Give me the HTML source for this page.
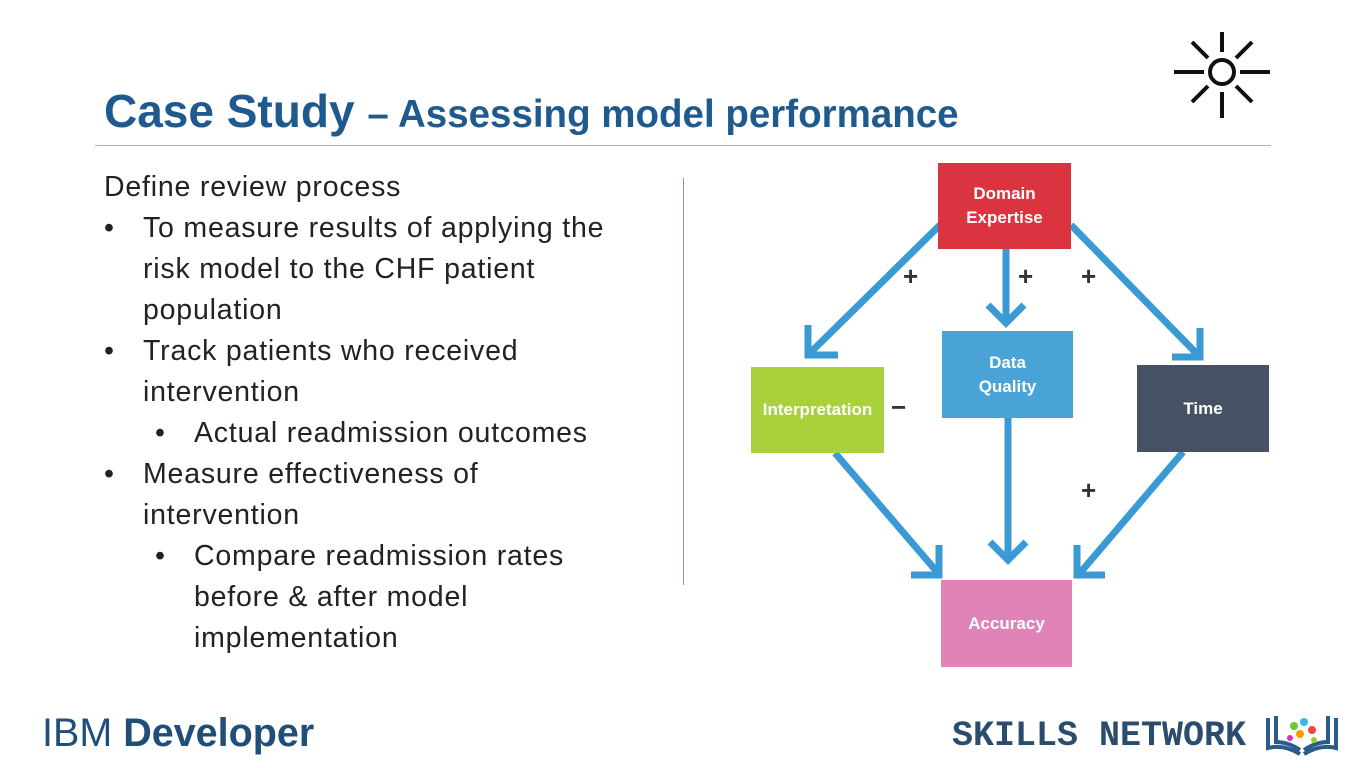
<!DOCTYPE html>
<html><head><style>
body{margin:0;width:1366px;height:768px;background:#fff;font-family:"Liberation Sans",sans-serif;position:relative;overflow:hidden}
.t{position:absolute;white-space:nowrap}
.body{font-size:28.5px;color:#222;letter-spacing:0.8px}
.bx{position:absolute;color:#fff;font-weight:bold;font-size:17px;display:flex;align-items:center;justify-content:center;text-align:center;line-height:24px}
</style></head><body>
<div class="t" style="left:104px;top:84px;color:#1f5a8e;font-weight:bold;font-size:46px">Case Study <span style="font-size:38.5px">– Assessing model performance</span></div>
<div style="position:absolute;left:95px;top:145px;width:1176px;height:1px;background:#aab4cc"></div>
<svg style="position:absolute;left:1170px;top:30px" width="104" height="90" viewBox="0 0 104 90">
<g stroke="#111" stroke-width="4" fill="none"><circle cx="52" cy="42" r="12"/>
<line x1="52" y1="2" x2="52" y2="22"/><line x1="52" y1="62" x2="52" y2="88"/>
<line x1="4" y1="42" x2="34" y2="42"/><line x1="70" y1="42" x2="100" y2="42"/>
<line x1="22" y1="12" x2="38" y2="28"/><line x1="82" y1="12" x2="66" y2="28"/>
<line x1="22" y1="72" x2="38" y2="56"/><line x1="82" y1="72" x2="66" y2="56"/></g></svg>
<div class="t body" style="left:104px;top:171px">Define review process</div>
<div class="t body" style="left:104px;top:212px">•</div><div class="t body" style="left:143px;top:212px">To measure results of applying the</div>
<div class="t body" style="left:143px;top:253px">risk model to the CHF patient</div>
<div class="t body" style="left:143px;top:294px">population</div>
<div class="t body" style="left:104px;top:335px">•</div><div class="t body" style="left:143px;top:335px">Track patients who received</div>
<div class="t body" style="left:143px;top:376px">intervention</div>
<div class="t body" style="left:155px;top:417px">•</div><div class="t body" style="left:194px;top:417px">Actual readmission outcomes</div>
<div class="t body" style="left:104px;top:458px">•</div><div class="t body" style="left:143px;top:458px">Measure effectiveness of</div>
<div class="t body" style="left:143px;top:499px">intervention</div>
<div class="t body" style="left:155px;top:540px">•</div><div class="t body" style="left:194px;top:540px">Compare readmission rates</div>
<div class="t body" style="left:194px;top:581px">before &amp; after model</div>
<div class="t body" style="left:194px;top:622px">implementation</div>
<div style="position:absolute;left:683px;top:178px;width:1px;height:407px;background:#7a9cc6"></div>
<svg style="position:absolute;left:0;top:0" width="1366" height="768">
<g stroke="#3a9ad3" stroke-width="7" fill="none">
<line x1="940" y1="225" x2="810" y2="353"/><polyline points="808,325 808,355 838,355"/>
<line x1="1006" y1="249" x2="1006" y2="322"/><polyline points="988,305 1006,323 1024,305"/>
<line x1="1071" y1="225" x2="1198" y2="355"/><polyline points="1200,328 1200,357 1172,357"/>
<line x1="835" y1="453" x2="938" y2="573"/><polyline points="939,545 939,575 911,575"/>
<line x1="1008" y1="418" x2="1008" y2="560"/><polyline points="990,542 1008,560 1026,542"/>
<line x1="1183" y1="452" x2="1080" y2="573"/><polyline points="1077,545 1077,575 1105,575"/>
</g>
<g font-family="Liberation Sans" font-weight="bold" font-size="26" fill="#333">
<text x="903" y="285">+</text><text x="1018" y="285">+</text><text x="1081" y="285">+</text><text x="1081" y="499">+</text><text x="891" y="416">−</text></g>
</svg>
<div class="bx" style="left:938px;top:163px;width:133px;height:86px;background:#d9343f">Domain<br>Expertise</div>
<div class="bx" style="left:942px;top:331px;width:131px;height:87px;background:#4aa3d6">Data<br>Quality</div>
<div class="bx" style="left:751px;top:367px;width:133px;height:86px;background:#a8d13c">Interpretation</div>
<div class="bx" style="left:1137px;top:365px;width:132px;height:87px;background:#465264">Time</div>
<div class="bx" style="left:941px;top:580px;width:131px;height:87px;background:#e083b6">Accuracy</div>
<div class="t" style="left:42px;top:711px;font-size:39.5px;color:#1f4e79"><span>IBM</span> <b>Developer</b></div>
<div class="t" style="left:952px;top:716px;font-size:35px;font-weight:bold;color:#2a4d6e;font-family:'Liberation Mono',monospace;letter-spacing:0px">SKILLS NETWORK</div>
<svg style="position:absolute;left:1264px;top:712px" width="76" height="46">
<g fill="none" stroke="#2a5c8a" stroke-width="4"><path d="M4 6 V36 Q20 32 36 42"/><path d="M72 6 V36 Q56 32 40 42"/><path d="M12 4 V30 Q24 30 36 38"/><path d="M64 4 V30 Q52 30 40 38"/></g>
<circle cx="30" cy="14" r="4" fill="#6c3"/><circle cx="40" cy="10" r="4" fill="#3bd"/><circle cx="48" cy="18" r="4" fill="#e44"/><circle cx="36" cy="22" r="4" fill="#f90"/><circle cx="26" cy="26" r="3" fill="#c3c"/><circle cx="50" cy="28" r="3" fill="#9c3"/></svg>
</body></html>
